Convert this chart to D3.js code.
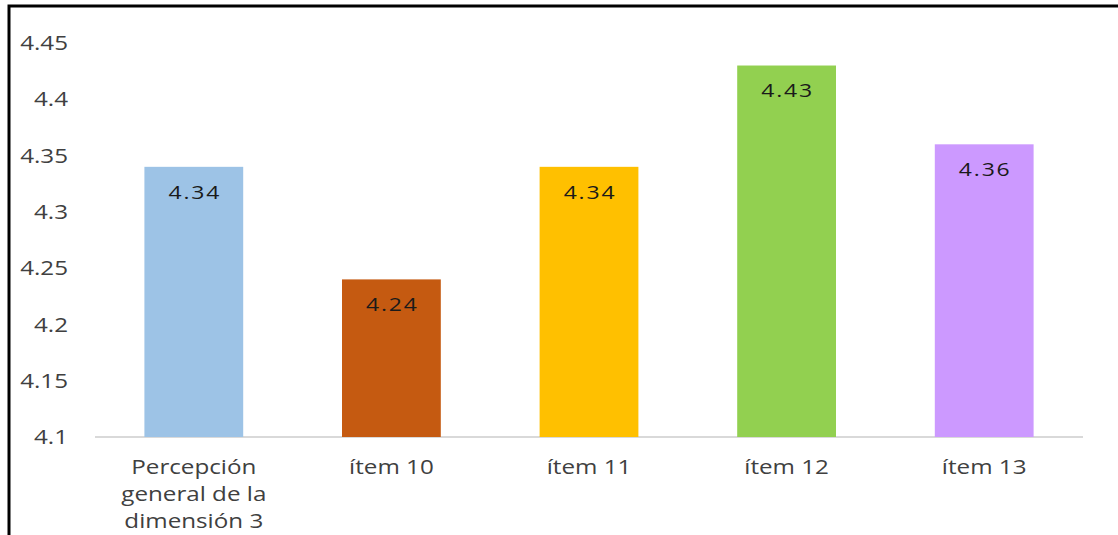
<!DOCTYPE html>
<html><head><meta charset="utf-8">
<script src="https://cdn.jsdelivr.net/npm/d3@7"></script>
<style>body{margin:0;background:#fff}svg{display:block}</style>
</head><body>
<svg id="c" width="1118" height="535"></svg>
<script>
const categories = [["Percepción","general de la","dimensión 3"],["ítem 10"],["ítem 11"],["ítem 12"],["ítem 13"]];
const values = [4.34, 4.24, 4.34, 4.43, 4.36];
const colors = ["#9DC3E6", "#C55A11", "#FFC000", "#92D050", "#CC99FF"];
const yTicks = [4.1, 4.15, 4.2, 4.25, 4.3, 4.35, 4.4, 4.45];

const svg = d3.select("#c");
const font = "'Open Sans', sans-serif";
const SX = 1.21;
const x = d3.scaleBand().domain(d3.range(categories.length)).range([95, 1083]).paddingInner(0.5).paddingOuter(0.25);
const y = d3.scaleLinear().domain([4.1, 4.45]).range([437, 43]);

// border (left and top)
svg.append("path").attr("d", "M9,535 V6 H1118").attr("fill", "none").attr("stroke", "#000").attr("stroke-width", 3);

// baseline
svg.append("line").attr("x1", 95).attr("x2", 1083).attr("y1", y(4.1)).attr("y2", y(4.1))
  .attr("stroke", "#D9D9D9").attr("stroke-width", 2);

// y tick labels
svg.append("g").selectAll("text").data(yTicks).join("text")
  .attr("transform", d => `translate(68,${y(d)}) scale(${SX},1)`)
  .attr("dy", "0.36em").attr("text-anchor", "end")
  .attr("font-family", font).attr("font-size", 20).attr("fill", "#404040")
  .text(d => String(d));

// bars
svg.append("g").selectAll("rect").data(values).join("rect")
  .attr("x", (d, i) => x(i)).attr("width", x.bandwidth())
  .attr("y", d => y(d)).attr("height", d => y(4.1) - y(d))
  .attr("fill", (d, i) => colors[i]);

// value labels
svg.append("g").selectAll("text").data(values).join("text")
  .attr("transform", (d, i) => `translate(${x(i) + x.bandwidth() / 2 + 1},${y(d) + 25}) scale(${SX},1)`)
  .attr("dy", "0.36em").attr("letter-spacing", 1.5)
  .attr("text-anchor", "middle").attr("font-family", font).attr("font-size", 19).attr("fill", "#1a1a1a")
  .text(d => d.toFixed(2));

// category labels
const cg = svg.append("g").selectAll("text").data(categories).join("text")
  .attr("transform", (d, i) => `translate(${x(i) + x.bandwidth() / 2},474) scale(${SX},1)`)
  .attr("text-anchor", "middle").attr("font-family", font).attr("font-size", 20).attr("fill", "#404040");
cg.selectAll("tspan").data(d => d).join("tspan")
  .attr("x", 0)
  .attr("dy", (d, j) => j === 0 ? 0 : 27).text(d => d);
</script>
</body></html>
